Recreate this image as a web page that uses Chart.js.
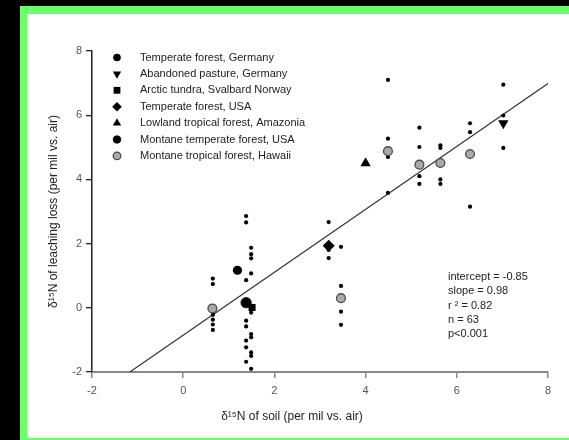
<!DOCTYPE html>
<html lang="en">
<head>
<meta charset="UTF-8">
<title>d15N leaching vs soil</title>
<script src="https://cdn.jsdelivr.net/npm/chart.js"></script>
<style>
  body { margin: 0; background: #000; }
  #frame {
    position: absolute; left: 20px; top: 6px;
    width: 549px; height: 434px; box-sizing: border-box;
    background: #fff;
    border-top: 8px solid #6cff6c; border-left: 7px solid #6cff6c; border-bottom: 2px solid #6cff6c;
  }
  canvas { display: block; }
</style>
</head>
<body>
<div id="frame"><canvas id="chart" width="542" height="424"></canvas></div>
<script>
// site means (large symbols)
const tempForestGermany = [[1.19, 1.17]];
const pastureGermany    = [[7.02, 5.75]];
const arcticSvalbard    = [[1.51, 0.01]];
const tempForestUSA     = [[3.19, 1.93]];
const lowlandAmazonia   = [[4.00, 4.50]];
const montaneTempUSA    = [[1.38, 0.16]];
const montaneHawaii     = [[0.64, -0.02], [3.46, 0.30], [4.49, 4.88], [5.18, 4.46], [5.64, 4.51], [6.29, 4.79]];

// individual samples (small dots)
const sampleX = [0.65, 0.65, 0.65, 0.65, 0.65, 0.65,
  1.38, 1.38, 1.38, 1.38, 1.38, 1.38, 1.38, 1.38,
  1.49, 1.49, 1.49, 1.49, 1.49, 1.49, 1.49, 1.49, 1.49, 1.49,
  3.19, 3.19, 3.19,
  3.46, 3.46, 3.46, 3.46,
  4.49, 4.49, 4.49, 4.49,
  5.18, 5.18, 5.18, 5.18,
  5.64, 5.64, 5.64, 5.64,
  6.29, 6.29, 6.29,
  7.02, 7.02, 7.02];
const sampleY = [0.91, 0.74, -0.22, -0.37, -0.52, -0.69,
  2.86, 2.66, 0.86, -0.40, -0.58, -1.02, -1.23, -1.68,
  1.87, 1.67, 1.54, 1.07, -0.15, -0.82, -0.92, -1.39, -1.50, -1.90,
  2.67, 1.80, 1.55,
  1.90, 0.68, -0.12, -0.53,
  7.10, 5.27, 4.70, 3.58,
  5.61, 5.01, 4.10, 3.86,
  5.06, 4.98, 4.00, 3.86,
  5.75, 5.47, 3.15,
  6.95, 5.99, 4.98];

// regression line end points
const fitLine = [[-1.17, -2.0], [8.0, 6.99]];
const statsText = ['intercept = -0.85', 'slope = 0.98', 'r \u00b2 = 0.82', 'n = 63', 'p<0.001'];

const xTicks = [-2, 0, 2, 4, 6, 8];
const yTicks = [-2, 0, 2, 4, 6, 8];
const xTitle = '\u03b4\u00b9\u2075N of soil (per mil vs. air)';
const yTitle = '\u03b4\u00b9\u2075N of leaching loss (per mil vs. air)';

const FONT = 'Arial, "Liberation Sans", sans-serif';

const pts = arr => arr.map(p => ({x: p[0], y: p[1]}));

function site(label, data, style, radius, extra) {
  return Object.assign({
    type: 'scatter', label: label, data: pts(data),
    pointStyle: style, pointRadius: radius, pointHoverRadius: radius,
    backgroundColor: '#000', borderColor: '#000', borderWidth: 0,
    showInLegend: true, order: 0
  }, extra || {});
}

const datasets = [
  site('Temperate forest, Germany', tempForestGermany, 'circle', 4.6),
  site('Abandoned pasture, Germany', pastureGermany, 'triangle', 6, {rotation: 180}),
  site('Arctic tundra, Svalbard Norway', arcticSvalbard, 'rect', 5),
  site('Temperate forest, USA', tempForestUSA, 'rectRot', 6),
  site('Lowland tropical forest, Amazonia', lowlandAmazonia, 'triangle', 6),
  site('Montane temperate forest, USA', montaneTempUSA, 'circle', 5.2, {borderColor: '#000', borderWidth: 0.8}),
  site('Montane tropical forest, Hawaii', montaneHawaii, 'circle', 4.4,
    {backgroundColor: '#a9a9a9', borderColor: '#4a4a4a', borderWidth: 1.3}),
  {
    type: 'scatter', label: 'samples',
    data: sampleX.map((x, i) => ({x: x, y: sampleY[i]})),
    pointStyle: 'circle', pointRadius: 2.1, backgroundColor: '#000', borderWidth: 0, order: 1
  },
  {
    type: 'line', label: 'fit', data: pts(fitLine),
    borderColor: '#333', borderWidth: 1.2, pointRadius: 0, fill: false, order: 2
  }
];

// legend inside plot, regression stats, x title
const overlay = {
  id: 'overlay',
  afterDatasetsDraw(chart) {
    const {ctx, chartArea} = chart;
    ctx.save();
    ctx.font = '11px ' + FONT;
    ctx.textBaseline = 'middle';
    let i = 0;
    chart.data.datasets.forEach(ds => {
      if (!ds.showInLegend) return;
      const y = chartArea.top + 6.5 + i * 16.4;
      const mx = chartArea.left + 25;
      ctx.fillStyle = ds.backgroundColor;
      ctx.strokeStyle = ds.borderColor;
      ctx.lineWidth = ds.borderWidth;
      Chart.helpers.drawPoint(ctx, {
        pointStyle: ds.pointStyle,
        rotation: ds.rotation || 0,
        radius: ds.pointStyle === 'circle' ? 3.8 : 4.8,
        borderWidth: ds.borderWidth
      }, mx, y);
      ctx.fillStyle = '#222';
      ctx.fillText(ds.label, chartArea.left + 48, y);
      i++;
    });
    statsText.forEach((t, k) => {
      ctx.fillText(t, chartArea.left + 356, chartArea.top + 226 + k * 14.3);
    });
    ctx.font = '12px ' + FONT;
    ctx.textAlign = 'center';
    ctx.fillText(xTitle, chartArea.left + 200, chartArea.bottom + 45);
    ctx.restore();
  }
};

new Chart(document.getElementById('chart'), {
  type: 'scatter',
  data: {datasets: datasets},
  options: {
    responsive: false,
    animation: false,
    layout: {padding: {left: 0, top: 37, right: 21, bottom: 0}},
    plugins: {legend: {display: false}, tooltip: {enabled: false}},
    scales: {
      x: {
        type: 'linear', min: -2, max: 8,
        afterBuildTicks: s => { s.ticks = xTicks.map(v => ({value: v})); },
        afterFit: s => { s.height = 66; },
        grid: {drawOnChartArea: false, drawTicks: true, tickLength: 6, color: '#888', lineWidth: 1.5},
        border: {display: true, color: '#8a8a8a', width: 2},
        ticks: {color: '#555', font: {family: FONT, size: 11}, padding: 6},
        title: {display: false, text: xTitle}
      },
      y: {
        type: 'linear', min: -2, max: 8,
        afterBuildTicks: s => { s.ticks = yTicks.map(v => ({value: v})); },
        afterFit: s => { s.width = 65; },
        grid: {drawOnChartArea: false, drawTicks: true, tickLength: 6, color: '#222', lineWidth: 1.3},
        border: {display: true, color: '#222', width: 1.5},
        ticks: {color: '#555', font: {family: FONT, size: 11}, padding: 4},
        title: {display: true, text: yTitle, color: '#222',
          font: {family: FONT, size: 12}, padding: {top: 19}}
      }
    }
  },
  plugins: [overlay]
});
</script>
</body>
</html>
